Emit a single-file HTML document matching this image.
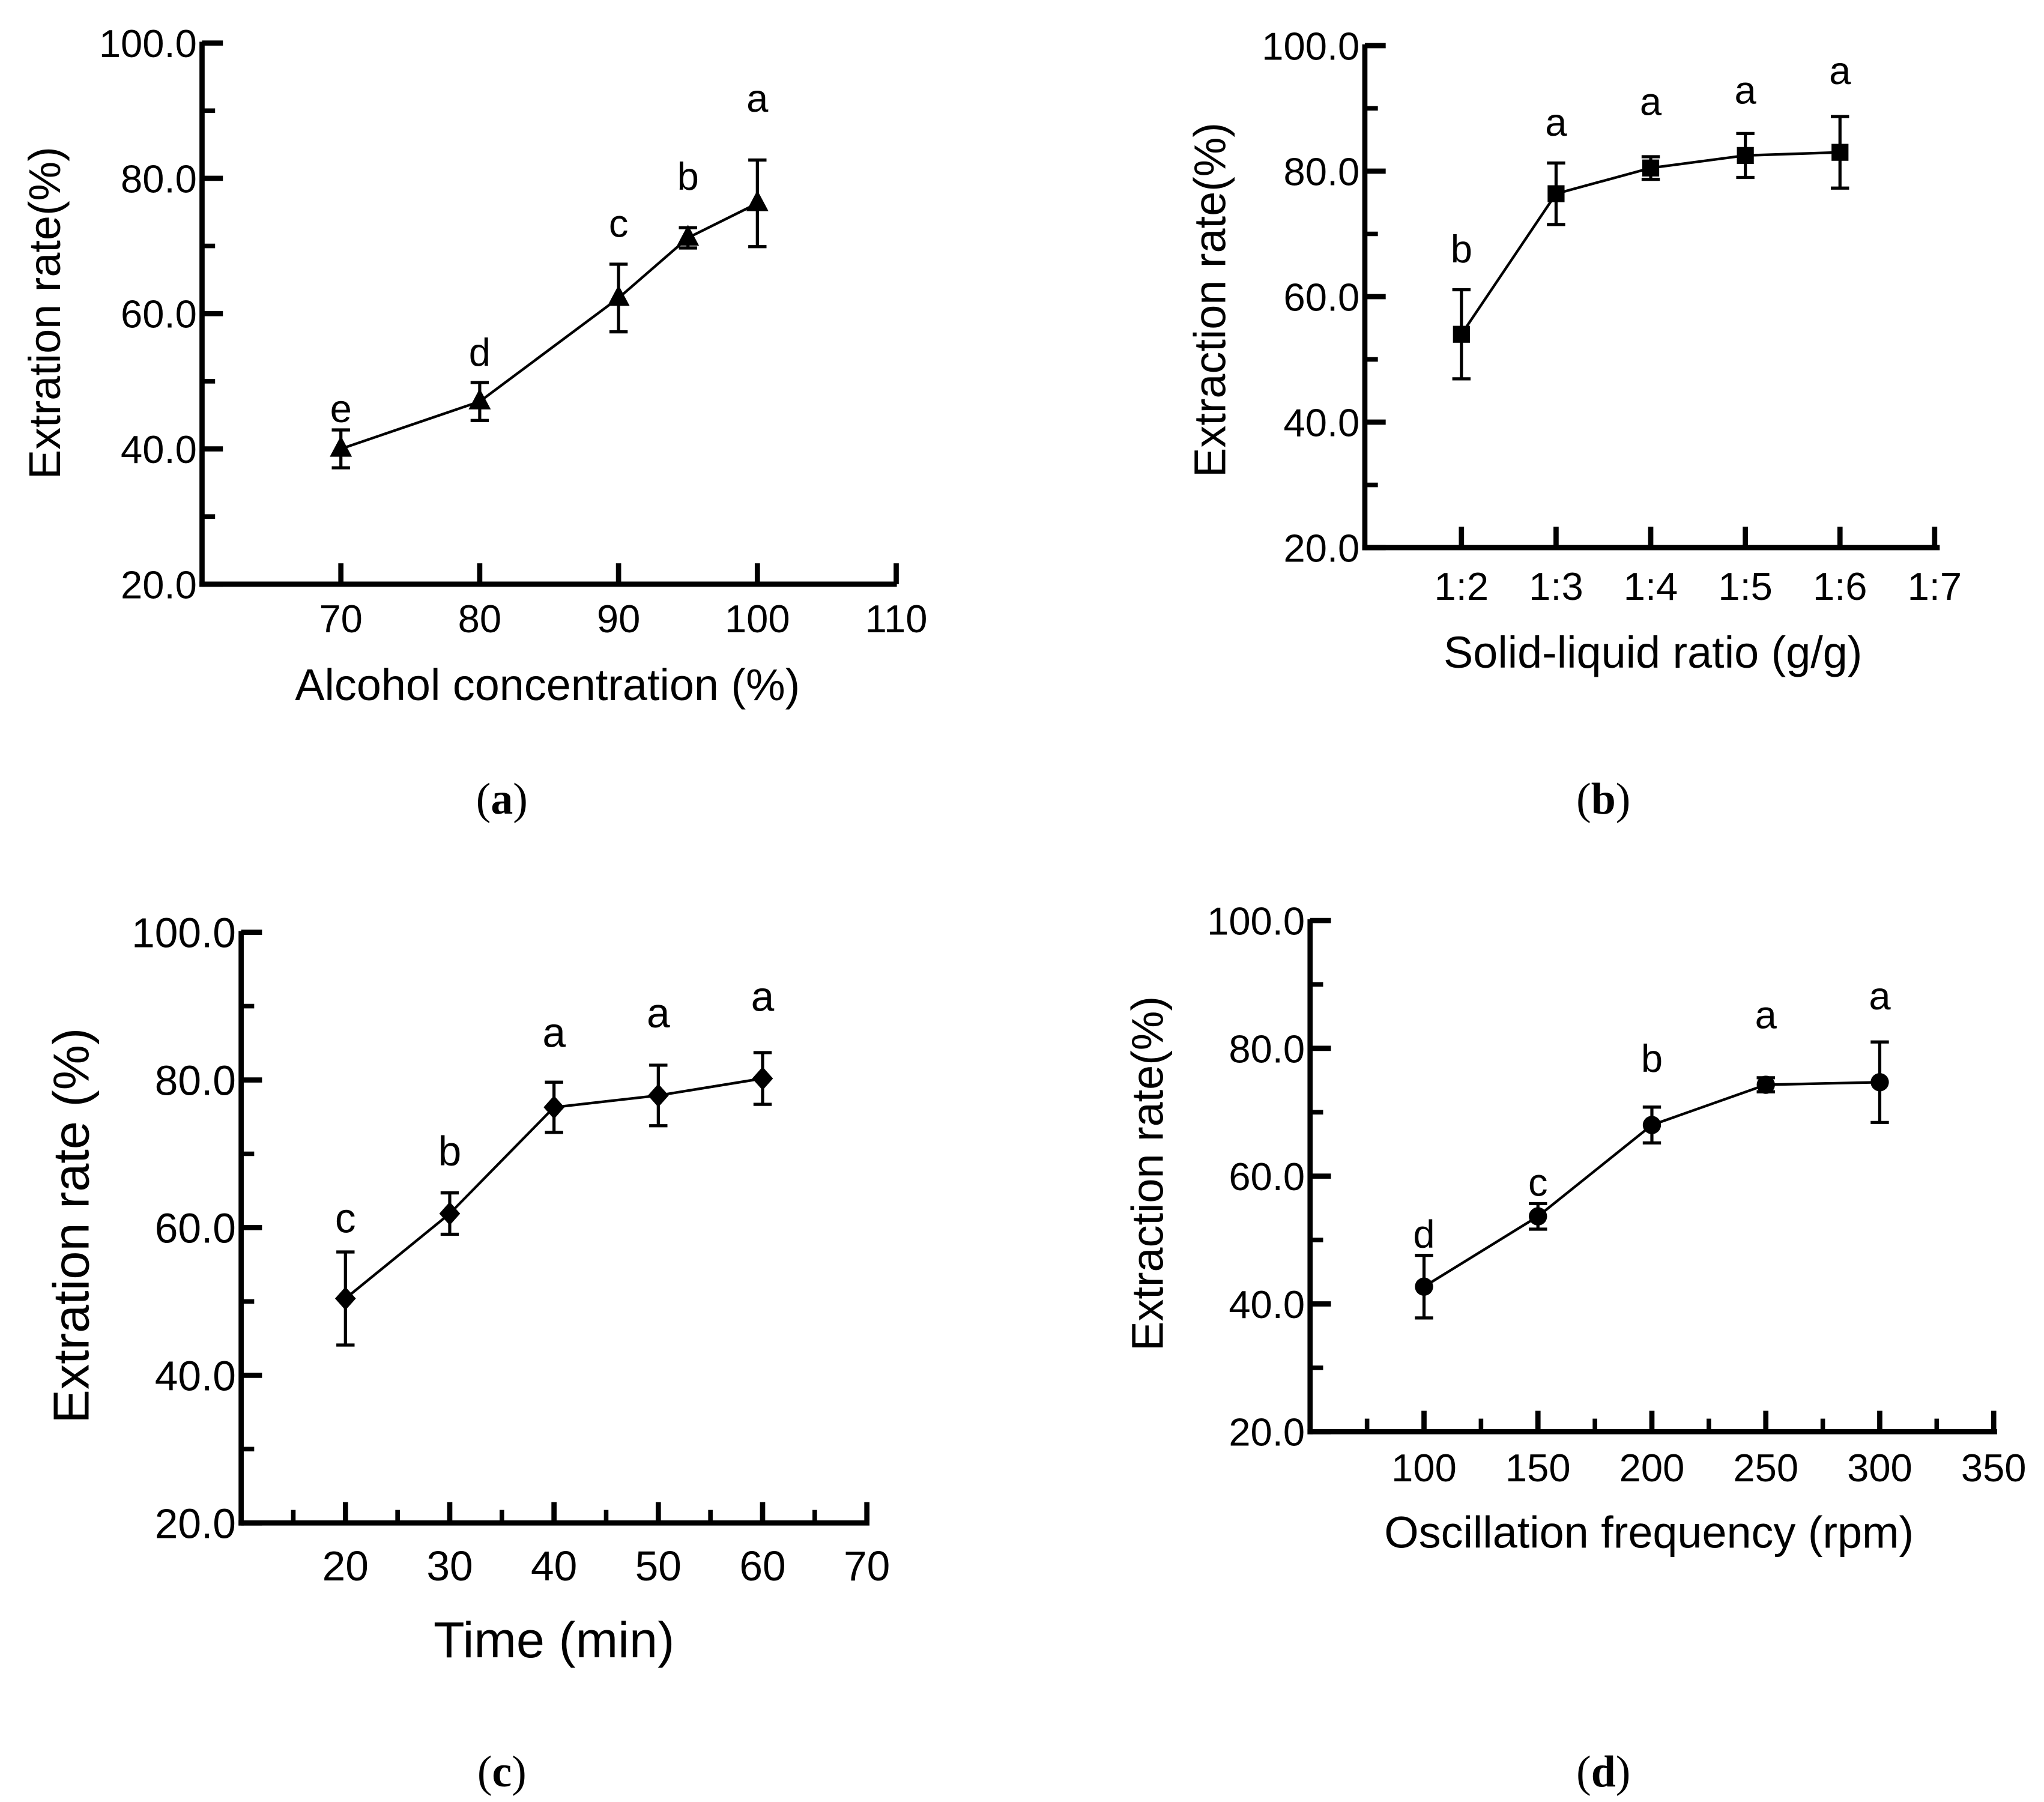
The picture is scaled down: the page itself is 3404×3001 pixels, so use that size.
<!DOCTYPE html>
<html><head><meta charset="utf-8"><style>
html,body{margin:0;padding:0;background:#fff;}
svg{display:block;}
text{font-family:"Liberation Sans",sans-serif;fill:#000;}
text.cap{font-family:"Liberation Serif",serif;}
</style></head><body>
<svg id="fig" width="3404" height="3001" viewBox="0 0 1568 1382" preserveAspectRatio="none" xmlns="http://www.w3.org/2000/svg"></svg>
<script>
// Panel (a)
const aCats=[70,80,90,95,100];
const aVals=[40.0,47.0,62.3,71.2,76.3];
const aErr=[2.8,2.8,5.0,1.5,6.4];
const aLetters=['e','d','c','b','a'];
const aXTicks=[70,80,90,100,110];
// Panel (b)
const bCats=['1:2','1:3','1:4','1:5','1:6'];
const bVals=[54.0,76.4,80.5,82.5,83.0];
const bErr=[7.1,4.9,1.8,3.5,5.7];
const bLetters=['b','a','a','a','a'];
const bXTicks=['1:2','1:3','1:4','1:5','1:6','1:7'];
// Panel (c)
const cCats=[20,30,40,50,60];
const cVals=[50.4,61.9,76.3,77.9,80.2];
const cErr=[6.3,2.8,3.4,4.1,3.5];
const cLetters=['c','b','a','a','a'];
const cXTicks=[20,30,40,50,60,70];
// Panel (d)
const dCats=[100,150,200,250,300];
const dVals=[42.7,53.7,68.0,74.3,74.7];
const dErr=[4.9,2.0,2.8,1.1,6.3];
const dLetters=['d','c','b','a','a'];
const dXTicks=[100,150,200,250,300,350];
const yTicks=[20,40,60,80,100];
const yMinor=[30,50,70,90];

const NS='http://www.w3.org/2000/svg';
const svg=document.getElementById('fig');
function mk(tag,attrs,parent){const e=document.createElementNS(NS,tag);for(const k in attrs)e.setAttribute(k,attrs[k]);(parent||svg).appendChild(e);return e;}
function txt(s,x,y,size,parent,anchor,extra){const t=mk('text',Object.assign({x:x,y:y,'font-size':size,'text-anchor':anchor||'middle'},extra||{}),parent);t.textContent=s;return t;}

function panel(o){
  const g=mk('g',{});
  
  
  const X=o.xf, Y=v=>o.y0-(v-20)/80*(o.y0-o.y1);
  const ya=mk('line',{x1:o.ax,y1:o.y1-1,x2:o.ax,y2:o.y0+2,stroke:'#000','stroke-width':4},g);
  
  
  const xa=mk('line',{x1:o.ax-2,y1:o.y0,x2:o.xEnd+2,y2:o.y0,stroke:'#000','stroke-width':4},g);
  
  
  yTicks.forEach(v=>{
    mk('line',{x1:o.ax,y1:Y(v),x2:o.ax+16,y2:Y(v),stroke:'#000','stroke-width':4},g);
    const t=txt(v.toFixed(1),o.ax-4,Y(v)+o.tf*0.36,o.tf,g,'end');
    
    
  });
  yMinor.forEach(v=>mk('line',{x1:o.ax,y1:Y(v),x2:o.ax+10,y2:Y(v),stroke:'#000','stroke-width':3.5},g));
  o.xticks.forEach((v,i)=>{
    const px=o.xtickPos(v,i);
    mk('line',{x1:px,y1:o.y0,x2:px,y2:o.y0-16,stroke:'#000','stroke-width':4},g);
    const t=txt(String(v),px,o.y0+o.xlOff,o.tf,g);
    
    
  });
  (o.xminor||[]).forEach(v=>mk('line',{x1:o.xminorPos(v),y1:o.y0,x2:o.xminorPos(v),y2:o.y0-10,stroke:'#000','stroke-width':3.5},g));
  const pts=o.vals.map((v,i)=>X(i)+','+Y(v)).join(' ');
  const pl=mk('polyline',{points:pts,fill:'none',stroke:'#000','stroke-width':2},g);
  
  
  o.vals.forEach((v,i)=>{
    const px=X(i),hi=Y(v+o.err[i]),lo=Y(v-o.err[i]);
    const eb=mk('path',{d:`M${px},${hi}V${lo}M${px-7},${hi}H${px+7}M${px-7},${lo}H${px+7}`,stroke:'#000','stroke-width':2.4,fill:'none'},g);
    
    
    const py=Y(v);let m;
    if(o.marker==='tri') m=mk('polygon',{points:`${px},${py-10} ${px-8.5},${py+6} ${px+8.5},${py+6}`,fill:'#000'},g);
    else if(o.marker==='sq') m=mk('rect',{x:px-6.5,y:py-6.5,width:13,height:13,fill:'#000'},g);
    else if(o.marker==='dia') m=mk('polygon',{points:`${px},${py-9} ${px+8},${py} ${px},${py+9} ${px-8},${py}`,fill:'#000'},g);
    else m=mk('circle',{cx:px,cy:py,r:7,fill:'#000'},g);
    
    
    const l=txt(o.letters[i],px,hi-o.lift[i],o.lf,g);
    
    
  });
  const xt=txt(o.xtitle,o.xtx,o.xty,o.ttf,g);
  
  
  const yt=txt(o.ytitle,0,0,o.ttf,g,'middle',{transform:`translate(${o.ytx},${o.yty}) rotate(-90)`});
  
  
  const cap=mk('text',{x:o.capx,y:o.capy,'font-size':34,'text-anchor':'middle','class':'cap'},g);
  
  
  cap.innerHTML='(<tspan font-weight="bold">'+o.cap+'</tspan>)';
}

const aX=v=>155+(v-60)/10*106.5;
panel({name:'panel-a',ax:155,y0:448,y1:33,xEnd:686,vals:aVals,err:aErr,letters:aLetters,xf:i=>aX(aCats[i]),
  xticks:aXTicks,xtickPos:v=>aX(v),xlOff:37,tf:30,lf:30,ttf:34,lift:[6,13,21,29,37],marker:'tri',
  xtitle:'Alcohol concentration (%)',xtx:420,xty:537,ytitle:'Extration rate(%)',ytx:46,yty:240,cap:'a',capx:385,capy:624});
const bX=i=>1048.5+(i+1)*72.6;
panel({name:'panel-b',ax:1047,y0:420,y1:35,xEnd:1486,vals:bVals,err:bErr,letters:bLetters,xf:i=>bX(i),
  xticks:bXTicks,xtickPos:(v,i)=>bX(i),xlOff:40,tf:30,lf:30,ttf:34,lift:[21,21,32,23,25],marker:'sq',
  xtitle:'Solid-liquid ratio (g/g)',xtx:1268,xty:512,ytitle:'Extraction rate(%)',ytx:940,yty:230,cap:'b',capx:1230,capy:624});
const cX=v=>185+(v-10)/10*80;
panel({name:'panel-c',ax:185,y0:1168,y1:715,xEnd:665,vals:cVals,err:cErr,letters:cLetters,xf:i=>cX(cCats[i]),
  xticks:cXTicks,xtickPos:v=>cX(v),xminor:[15,25,35,45,55,65],xminorPos:v=>cX(v),xlOff:44,tf:32,lf:32,ttf:39,lift:[15,21,27,29,32],marker:'dia',
  xtitle:'Time (min)',xtx:425,xty:1271,ytitle:'Extration rate (%)',ytx:68,yty:940,cap:'c',capx:385,capy:1370});
const dX=v=>1005+(v-50)/50*87.4;
panel({name:'panel-d',ax:1005,y0:1098,y1:706,xEnd:1530,vals:dVals,err:dErr,letters:dLetters,xf:i=>dX(dCats[i]),
  xticks:dXTicks,xtickPos:v=>dX(v),xminor:[75,125,175,225,275,325],xminorPos:v=>dX(v),xlOff:38,tf:30,lf:30,ttf:34,lift:[6,6,27,38,25],marker:'circ',
  xtitle:'Oscillation frequency (rpm)',xtx:1265,xty:1187,ytitle:'Extraction rate(%)',ytx:892,yty:900,cap:'d',capx:1230,capy:1370});
</script>
</body></html>
